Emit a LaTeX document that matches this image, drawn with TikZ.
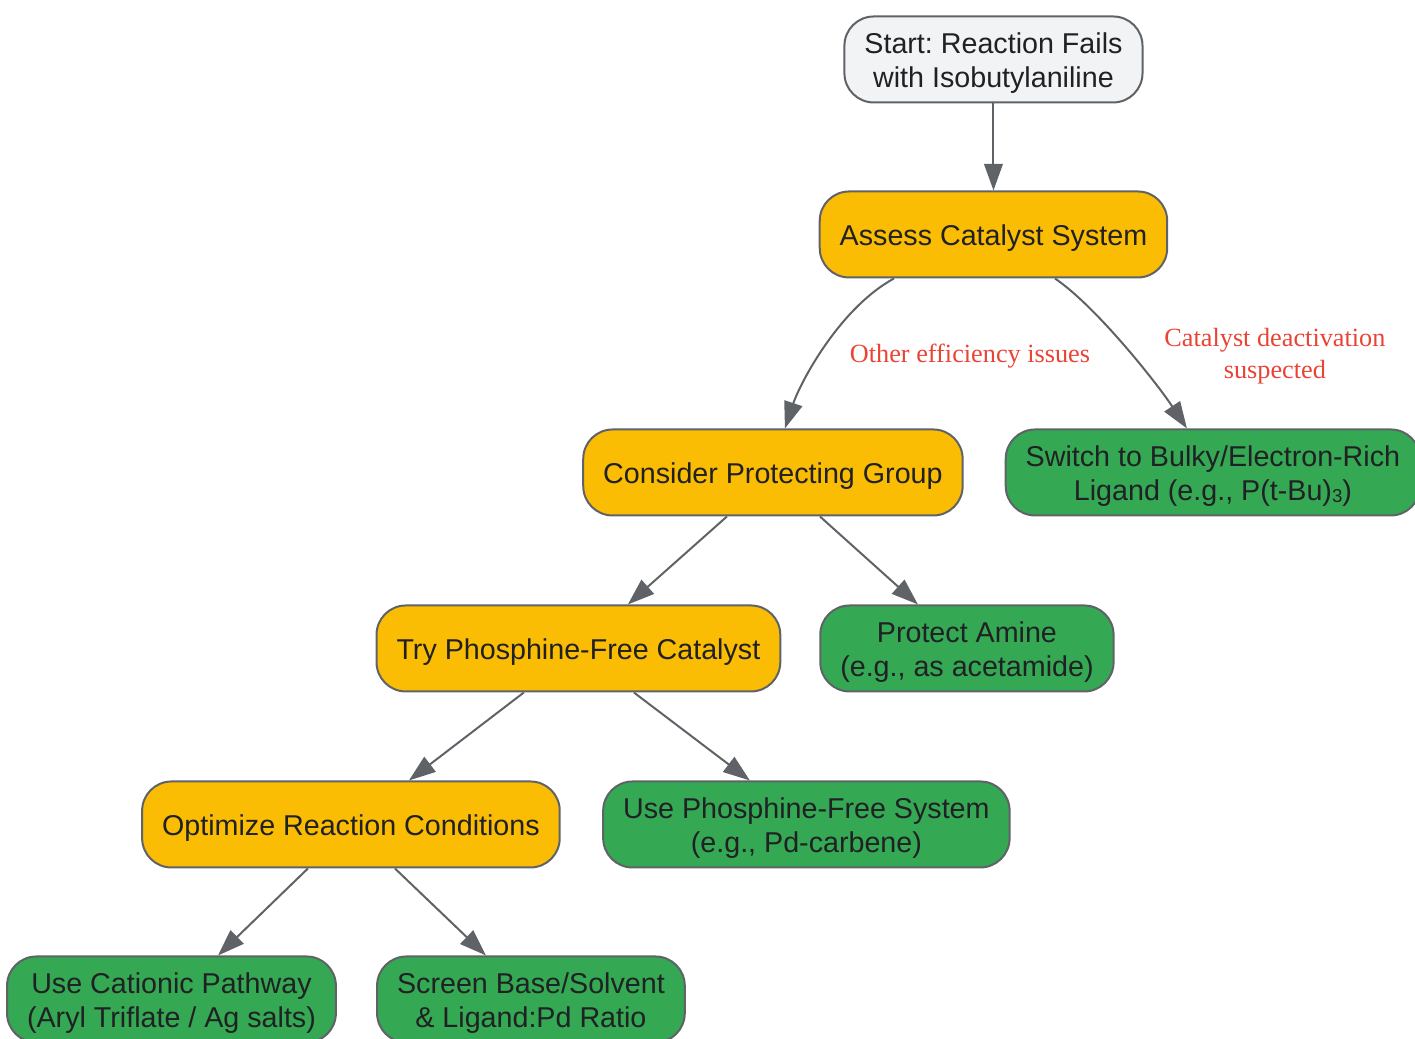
\documentclass[tikz,border=0pt]{standalone}
\usepackage{fontspec}
\setmainfont{Liberation Sans}
\newfontfamily\labelfont{Liberation Serif}
\usetikzlibrary{arrows.meta, positioning, calc}
\definecolor{startgrey}{HTML}{F1F3F4}
\definecolor{stepyellow}{HTML}{FBBC04}
\definecolor{actiongreen}{HTML}{34A853}
\definecolor{edgegrey}{HTML}{5F6368}
\definecolor{textdark}{HTML}{202124}
\definecolor{labelred}{HTML}{EA4335}
\newcommand{\subthree}{\raisebox{-1pt}{\fontsize{14pt}{14pt}\selectfont 3}}
\frenchspacing

\begin{document}
\begin{tikzpicture}[->, >={Triangle[length=20pt, width=14pt]}, node distance=66pt]
        \tikzstyle{basebox} = [rectangle, rounded corners=22pt, draw=edgegrey, line width=1.5pt, text=textdark, align=center, minimum height=64.5pt, inner xsep=15pt, inner ysep=3pt, font=\fontsize{21.5pt}{25.5pt}\selectfont]
        \tikzstyle{terminal} = [basebox, fill=startgrey, text height=47pt]
        \tikzstyle{decision} = [basebox, fill=stepyellow, text height=21pt]
        \tikzstyle{action} = [basebox, fill=actiongreen, text height=47pt]
        \tikzstyle{conn} = [draw=edgegrey, line width=1.5pt]
        \tikzstyle{elabel} = [text=labelred, align=center, font=\labelfont\fontsize{19.7pt}{24pt}\selectfont]

        \useasboundingbox (0,0) rectangle (1061.25pt,-779.25pt);

        \node[terminal](start) at (745.1pt,-44.6pt) {Start: Reaction Fails\\with Isobutylaniline};
        \node[decision](assess) [below=65.25pt of start] {Assess Catalyst System};
        \node[decision](protgroup) [below=112.5pt of assess, xshift=-165.4pt] {Consider Protecting Group};
        \node[action](bulky) [below=112.5pt of assess, xshift=164.6pt] {Switch to Bulky/Electron-Rich\\Ligand (e.g., P(t-Bu)\subthree)};
        \node[decision](phosfree) [below=of protgroup, xshift=-145.9pt] {Try Phosphine-Free Catalyst};
        \node[action](protamine) [below=of protgroup, xshift=145.5pt] {Protect Amine\\(e.g., as acetamide)};
        \node[decision](optimize) [below=of phosfree, xshift=-170.6pt] {Optimize Reaction Conditions};
        \node[action](carbene) [below=of phosfree, xshift=171pt] {Use Phosphine-Free System\\(e.g., Pd-carbene)};
        \node[action](cationic) [below=65.25pt of optimize, xshift=-134.6pt] {Use Cationic Pathway\\(Aryl Triflate / Ag salts)};
        \node[action](screen) [below=65.25pt of optimize, xshift=135pt] {Screen Base/Solvent\\\& Ligand:Pd Ratio};

        \node[elabel](efflabel) at ($(assess.center)+(-17.6pt,-91.5pt)$) {Other efficiency issues};
        \node[elabel](deactlabel) at ($(assess.center)+(211.1pt,-91pt)$) {Catalyst deactivation\\suspected};

        \draw[conn] (start) -- (assess);
        \draw[conn] ($(assess.south)+(-74.6pt,0)$) .. controls +(-41.25pt,-22.5pt) and +(11.25pt,33.75pt) .. ($(protgroup.north)+(9pt,0)$);
        \draw[conn] ($(assess.south)+(46.1pt,0)$) .. controls +(30pt,-20.25pt) and +(-24pt,36pt) .. ($(bulky.north)+(-19.5pt,0)$);
        \draw[conn] ($(protgroup.south)+(-34.5pt,0)$) -- ($(phosfree.north)+(37.1pt,0)$);
        \draw[conn] ($(protgroup.south)+(35.25pt,0)$) -- ($(protamine.north)+(-36.75pt,0)$);
        \draw[conn] ($(phosfree.south)+(-40.9pt,0)$) -- ($(optimize.north)+(43.5pt,0)$);
        \draw[conn] ($(phosfree.south)+(41.6pt,0)$) -- ($(carbene.north)+(-42.4pt,0)$);
        \draw[conn] ($(optimize.south)+(-32.25pt,0)$) -- ($(cationic.north)+(34.9pt,0)$);
        \draw[conn] ($(optimize.south)+(33pt,0)$) -- ($(screen.north)+(-33.75pt,0)$);
\end{tikzpicture}
\end{document}
